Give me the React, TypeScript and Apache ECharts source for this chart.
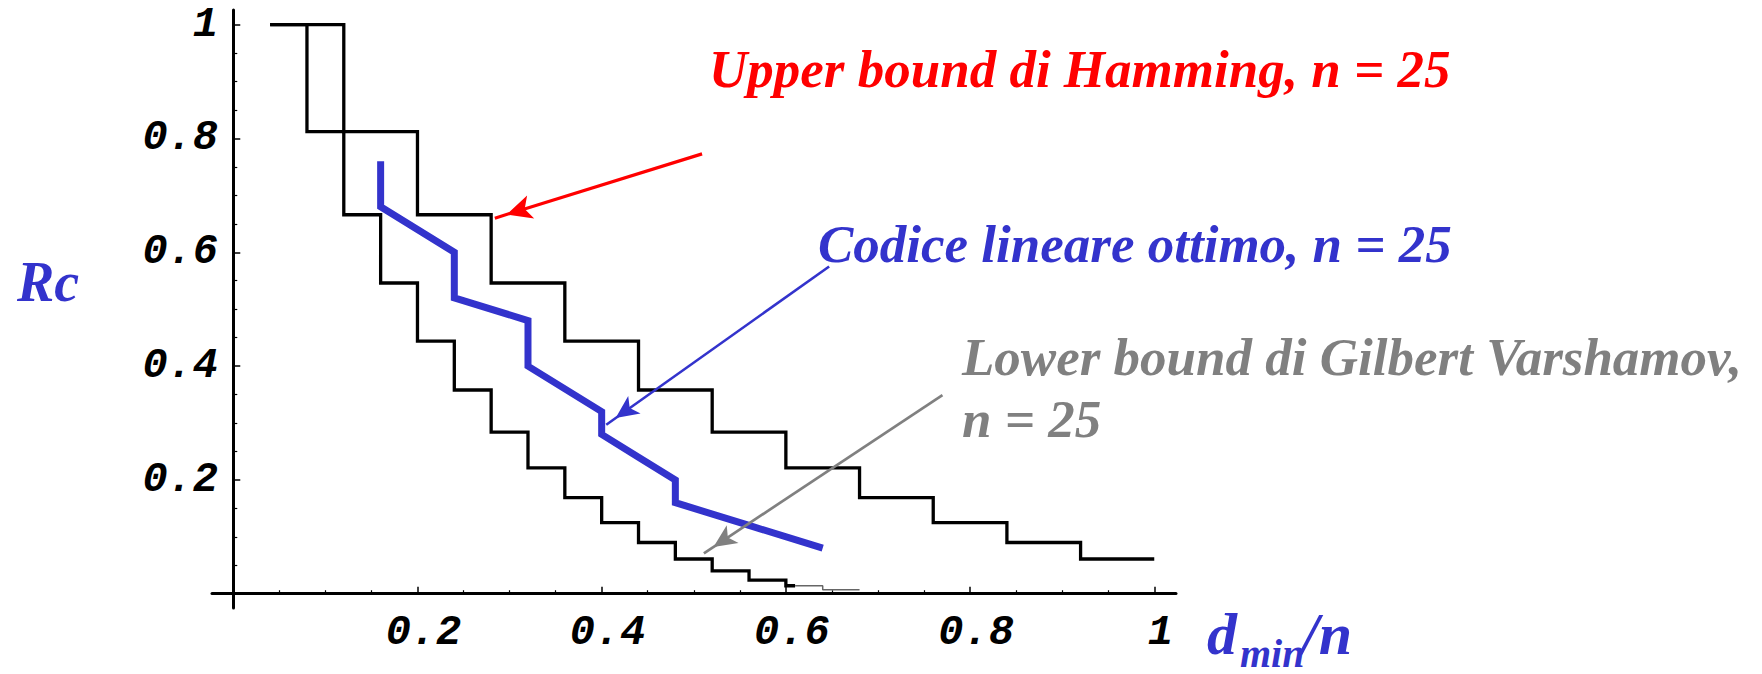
import React, { useEffect, useRef } from 'react';
import * as echarts from 'echarts';

// Upper bound di Hamming, n = 25 (step function: value holds until next x)
const hammingX = [0.04, 0.12, 0.2, 0.28, 0.36, 0.44, 0.52, 0.6, 0.68, 0.76, 0.84, 0.92, 1.0];
const hammingR = [1, 0.812, 0.666, 0.546, 0.444, 0.358, 0.284, 0.221, 0.169, 0.125, 0.09, 0.061, 0.061];

// Lower bound di Gilbert Varshamov, n = 25 (thick black part)
const gvX = [0.04, 0.08, 0.12, 0.16, 0.2, 0.24, 0.28, 0.32, 0.36, 0.4, 0.44, 0.48, 0.52, 0.56, 0.6, 0.61];
const gvR = [1, 0.812, 0.666, 0.546, 0.444, 0.358, 0.284, 0.221, 0.169, 0.125, 0.09, 0.061, 0.04, 0.024, 0.014, 0.014];
// thin grey tail of the same bound
const gvTailX = [0.61, 0.64, 0.68];
const gvTailR = [0.014, 0.007, 0.007];

// Codice lineare ottimo, n = 25
const optX = [0.16, 0.16, 0.24, 0.24, 0.32, 0.32, 0.36, 0.4, 0.4, 0.44, 0.48, 0.48, 0.56, 0.64];
const optR = [0.76, 0.68, 0.6, 0.52, 0.48, 0.4, 0.36, 0.32, 0.28, 0.24, 0.2, 0.16, 0.12, 0.08];

// annotation arrows [tail, tip] in data units
const redArrow = [[0.509, 0.773], [0.284, 0.66]];
const blueArrow = [[0.647, 0.575], [0.405, 0.297]];
const grayArrow = [[0.77, 0.349], [0.511, 0.071]];

// ticks
const majorTicks = [0.2, 0.4, 0.6, 0.8, 1];
const minorTicks = [0.05, 0.1, 0.15, 0.25, 0.3, 0.35, 0.45, 0.5, 0.55, 0.65, 0.7, 0.75, 0.85, 0.9, 0.95];

// texts
const hammingLabel = 'Upper bound di Hamming, n = 25';
const optLabel = 'Codice lineare ottimo, n = 25';
const gvLabel1 = 'Lower bound di Gilbert Varshamov,';
const gvLabel2 = 'n = 25';
const yName = 'Rc';
const xNameMain = 'd';
const xNameSub = 'min';
const xNameTail = '/n';

const RED = '#FF0000';
const BLUE = '#3333CC';
const GRAY = '#808080';

const X_MIN = -0.0231;
const X_MAX = 1.0236;
const Y_MIN = -0.0251;
const Y_MAX = 1.0258;

const labelFont = {
  fontFamily: 'Liberation Mono',
  fontStyle: 'italic' as const,
  fontWeight: 'bold' as const,
  fontSize: 42,
  color: '#000',
};

function zip(xs: number[], ys: number[]) {
  return xs.map((x, i) => [x, ys[i]]);
}

function arrowMark(pts: number[][], color: string, width: number, size: number[]) {
  return {
    silent: true,
    animation: false,
    symbol: ['none', 'arrow'],
    symbolSize: size,
    symbolOffset: [0, [0, size[1] / 2]],
    label: { show: false },
    emphasis: { disabled: true },
    lineStyle: { color, width, type: 'solid', opacity: 1 },
    itemStyle: { color },
    data: [[{ coord: pts[0] }, { coord: pts[1] }]],
  };
}

function textEl(text: string, x: number, y: number, color: string, size: number) {
  return {
    type: 'text',
    x,
    y,
    silent: true,
    style: {
      text,
      fill: color,
      fontFamily: 'Liberation Serif',
      fontStyle: 'italic',
      fontWeight: 'bold',
      fontSize: size,
      align: 'left',
      verticalAlign: 'middle',
      textAlign: 'left',
      textVerticalAlign: 'middle',
    },
  };
}

export default function App() {
  const ref = useRef<HTMLDivElement>(null);

  useEffect(() => {
    if (!ref.current) return;
    const chart = echarts.init(ref.current, null, { renderer: 'svg' });

    const majorX = {
      type: 'value',
      min: X_MIN,
      max: X_MAX,
      position: 'bottom',
      axisLine: { show: true, onZero: true, onZeroAxisIndex: 0, lineStyle: { color: '#000', width: 3 } },
      axisTick: { show: true, inside: true, length: 7, customValues: majorTicks, lineStyle: { color: '#000', width: 1.5 } },
      axisLabel: {
        show: true,
        customValues: majorTicks,
        margin: 4,
        padding: [0, 0, 0, 12],
        formatter: (v: number) => String(v),
        ...labelFont,
      },
      splitLine: { show: false },
      minorTick: { show: false },
    };
    const minorX = {
      type: 'value',
      min: X_MIN,
      max: X_MAX,
      position: 'bottom',
      axisLine: { show: false, onZero: true, onZeroAxisIndex: 0 },
      axisTick: { show: true, inside: true, length: 3.5, customValues: minorTicks, lineStyle: { color: '#000', width: 1.2 } },
      axisLabel: { show: false },
      splitLine: { show: false },
    };
    const majorY = {
      type: 'value',
      min: Y_MIN,
      max: Y_MAX,
      position: 'left',
      axisLine: { show: true, onZero: true, onZeroAxisIndex: 0, lineStyle: { color: '#000', width: 3 } },
      axisTick: { show: true, inside: true, length: 7, customValues: majorTicks, lineStyle: { color: '#000', width: 1.5 } },
      axisLabel: {
        show: true,
        customValues: majorTicks,
        margin: -6,
        padding: [14, 0, 0, 0],
        formatter: (v: number) => String(v),
        ...labelFont,
      },
      splitLine: { show: false },
    };
    const minorY = {
      type: 'value',
      min: Y_MIN,
      max: Y_MAX,
      position: 'left',
      axisLine: { show: false, onZero: true, onZeroAxisIndex: 0 },
      axisTick: { show: true, inside: true, length: 4, customValues: minorTicks, lineStyle: { color: '#000', width: 1.2 } },
      axisLabel: { show: false },
      splitLine: { show: false },
    };

    chart.setOption({
      animation: false,
      backgroundColor: '#ffffff',
      grid: { left: 212, right: 1762 - 1176, top: 10, bottom: 674 - 608, containLabel: false },
      xAxis: [majorX, minorX],
      yAxis: [majorY, minorY],
      series: [
        {
          type: 'line',
          name: 'Upper bound di Hamming',
          data: zip(hammingX, hammingR),
          step: 'end',
          showSymbol: false,
          lineStyle: { color: '#000', width: 3.3, join: 'miter' },
          markLine: arrowMark(redArrow, RED, 3.2, [18, 25]),
          z: 2,
        },
        {
          type: 'line',
          name: 'Lower bound di Gilbert Varshamov',
          data: zip(gvX, gvR),
          step: 'end',
          showSymbol: false,
          lineStyle: { color: '#000', width: 3.3, join: 'miter' },
          z: 2,
        },
        {
          type: 'line',
          name: 'Lower bound (tail)',
          data: zip(gvTailX, gvTailR),
          step: 'end',
          showSymbol: false,
          lineStyle: { color: '#666', width: 1.5 },
          markLine: arrowMark(grayArrow, GRAY, 2.7, [16, 23]),
          z: 4,
        },
        {
          type: 'line',
          name: 'Codice lineare ottimo',
          data: zip(optX, optR),
          showSymbol: false,
          lineStyle: { color: BLUE, width: 7, join: 'miter', cap: 'butt' },
          markLine: arrowMark(blueArrow, BLUE, 2.6, [16, 23]),
          z: 3,
        },
      ],
      graphic: [
        textEl(hammingLabel, 709, 69, RED, 53),
        textEl(optLabel, 818, 244, BLUE, 53),
        textEl(gvLabel1, 962, 357, GRAY, 53),
        textEl(gvLabel2, 962, 419, GRAY, 53),
        textEl(yName, 17, 282, BLUE, 56),
        textEl(xNameMain, 1207, 634, BLUE, 60),
        textEl(xNameSub, 1240, 653, BLUE, 40),
        textEl(xNameTail, 1302, 634, BLUE, 60),
      ],
    });

    return () => {
      chart.dispose();
    };
  }, []);

  return (
    <div
      ref={ref}
      style={{ position: 'absolute', left: 0, top: 0, width: 1762, height: 674, background: '#fff' }}
    />
  );
}
